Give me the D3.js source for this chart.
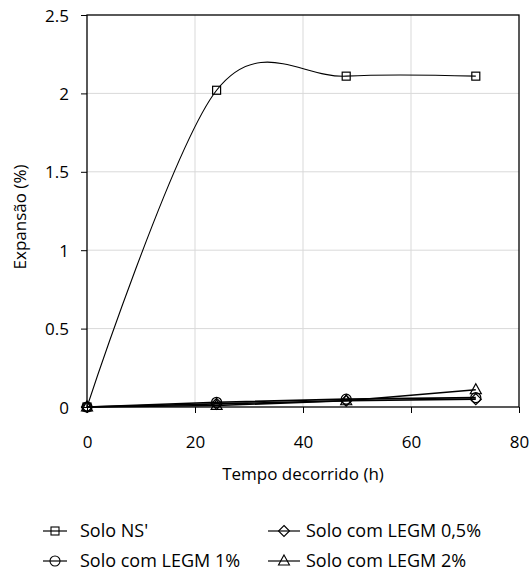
<!DOCTYPE html>
<html>
<head>
<meta charset="utf-8">
<script src="https://cdn.jsdelivr.net/npm/d3@7"></script>
<style>
  html, body { margin: 0; padding: 0; background: #fff; }
  text { font-family: "Open Sans", "Noto Sans", sans-serif; fill: #000; }
</style>
</head>
<body>
<svg id="chart" width="532" height="573"></svg>
<script>
// Elapsed time (h)
const hours = [0, 24, 48, 72];
// Expansion (%) per soil mixture
const soloNS = [0, 2.02, 2.11, 2.11];
const legm05 = [0, 0.02, 0.04, 0.05];
const legm1 = [0, 0.03, 0.05, 0.06];
const legm2 = [0, 0.01, 0.04, 0.11];
const seriesNames = ["Solo NS'", "Solo com LEGM 0,5%", "Solo com LEGM 1%", "Solo com LEGM 2%"];
const xTicks = [0, 20, 40, 60, 80];
const yTicks = [0, 0.5, 1, 1.5, 2, 2.5];

const svg = d3.select("#chart");
const m = { left: 87, right: 519, top: 15, bottom: 407 };
const FS = 17;

const x = d3.scaleLinear().domain([0, 80]).range([m.left, m.right]);
const y = d3.scaleLinear().domain([0, 2.5]).range([m.bottom, m.top]);

// gridlines
const grid = svg.append("g");
grid.selectAll("line.gx").data(xTicks.slice(1, -1)).join("line")
  .attr("x1", d => x(d)).attr("x2", d => x(d))
  .attr("y1", m.top).attr("y2", m.bottom)
  .attr("stroke", "#d9d9d9").attr("stroke-width", 1);
grid.selectAll("line.gy").data(yTicks.slice(1, -1)).join("line")
  .attr("x1", m.left).attr("x2", m.right)
  .attr("y1", d => y(d)).attr("y2", d => y(d))
  .attr("stroke", "#d9d9d9").attr("stroke-width", 1);

// plot frame
svg.append("rect")
  .attr("x", m.left).attr("y", m.top)
  .attr("width", m.right - m.left).attr("height", m.bottom - m.top)
  .attr("fill", "none").attr("stroke", "#000").attr("stroke-width", 1.3);

// axes
const xAxis = d3.axisBottom(x).tickValues(xTicks).tickSize(6).tickFormat(d3.format("d"));
const gx = svg.append("g").attr("transform", `translate(0,${m.bottom})`).call(xAxis);
gx.select(".domain").remove();
gx.selectAll("line").attr("stroke", "#000");
gx.selectAll("text").attr("font-size", FS).attr("y", 41).attr("dy", 0);

const yAxis = d3.axisLeft(y).tickValues(yTicks).tickSize(6).tickPadding(12).tickFormat(d => String(d));
const gy = svg.append("g").attr("transform", `translate(${m.left},0)`).call(yAxis);
gy.select(".domain").remove();
gy.selectAll("line").attr("stroke", "#000");
gy.selectAll("text").attr("font-size", FS).attr("dy", "0.36em");

// axis titles
svg.append("text").attr("x", (m.left + m.right) / 2).attr("y", 480)
  .attr("text-anchor", "middle").attr("font-size", FS).text("Tempo decorrido (h)");
svg.append("text").attr("transform", `translate(26,${(m.top + m.bottom) / 2 + 6}) rotate(-90)`)
  .attr("text-anchor", "middle").attr("font-size", FS).text("Expansão (%)");

// marker shapes
function marker(g, type, cx, cy) {
  if (type === "square") {
    g.append("rect").attr("x", cx - 4).attr("y", cy - 4).attr("width", 8).attr("height", 8);
  } else if (type === "diamond") {
    g.append("path").attr("d", `M${cx},${cy - 5.5}L${cx + 5.5},${cy}L${cx},${cy + 5.5}L${cx - 5.5},${cy}Z`);
  } else if (type === "circle") {
    g.append("circle").attr("cx", cx).attr("cy", cy).attr("r", 5);
  } else {
    g.append("path").attr("d", `M${cx},${cy - 6}L${cx + 5.5},${cy + 4}L${cx - 5.5},${cy + 4}Z`);
  }
}

const series = [
  { name: seriesNames[0], values: soloNS, type: "square", curve: d3.curveCatmullRom.alpha(0) },
  { name: seriesNames[1], values: legm05, type: "diamond", curve: d3.curveLinear },
  { name: seriesNames[2], values: legm1, type: "circle", curve: d3.curveLinear },
  { name: seriesNames[3], values: legm2, type: "triangle", curve: d3.curveLinear }
];

series.forEach(s => {
  const pts = hours.map((h, i) => [h, s.values[i]]);
  const line = d3.line().x(d => x(d[0])).y(d => y(d[1])).curve(s.curve);
  svg.append("path").datum(pts).attr("d", line)
    .attr("fill", "none").attr("stroke", "#000").attr("stroke-width", s.type === "square" ? 1.1 : 1.6);
  const g = svg.append("g").attr("fill", "none").attr("stroke", "#000").attr("stroke-width", 1.2);
  pts.forEach(p => marker(g, s.type, x(p[0]), y(p[1])));
});

// legend
const legendPos = [[43, 531], [268, 531], [43, 561], [268, 561]];
series.forEach((s, i) => {
  const [lx, ly] = legendPos[i];
  const w = i % 2 === 0 ? 24 : 32;
  svg.append("line").attr("x1", lx).attr("x2", lx + w).attr("y1", ly).attr("y2", ly)
    .attr("stroke", "#000").attr("stroke-width", 1.2);
  const g = svg.append("g").attr("fill", "none").attr("stroke", "#000").attr("stroke-width", 1.1);
  marker(g, s.type, lx + w / 2, ly);
  svg.append("text").attr("x", lx + w + (i % 2 === 0 ? 13 : 6)).attr("y", ly).attr("dy", "0.36em")
    .attr("font-size", 18).text(s.name);
});
</script>
</body>
</html>
